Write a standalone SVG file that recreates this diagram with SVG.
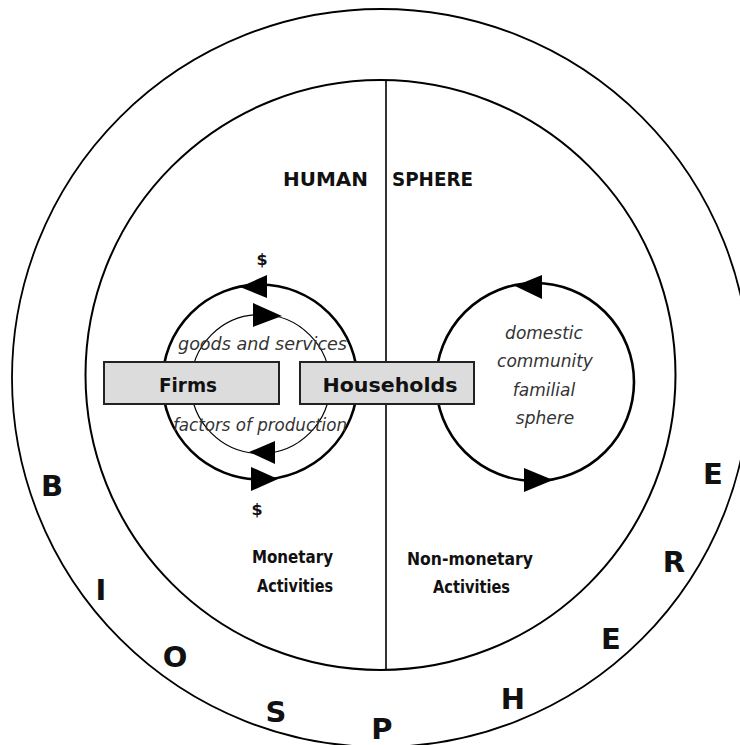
<svg xmlns="http://www.w3.org/2000/svg" width="740" height="745" viewBox="0 0 740 745">
<style>
.ring{fill:none;stroke:#000}
.b{font-family:"DejaVu Sans","Liberation Sans",sans-serif;font-weight:bold;fill:#111}
.it{font-family:"DejaVu Sans","Liberation Sans",sans-serif;font-style:italic;fill:#333;font-size:17px}
.big{font-size:29px;text-anchor:middle}
.box{fill:#dcdcdc;stroke:#222;stroke-width:2}
.arr{fill:#000;stroke:none}
</style>
<rect width="740" height="745" fill="#fff"/>
<g id="biosphere">
<circle class="ring" cx="381" cy="378" r="369" stroke-width="1.8"/>
<text class="b big" x="52" y="496">B</text>
<text class="b big" x="101" y="600">I</text>
<text class="b big" x="175" y="667">O</text>
<text class="b big" x="276" y="722">S</text>
<text class="b big" x="382" y="739">P</text>
<text class="b big" x="513" y="709">H</text>
<text class="b big" x="611" y="649">E</text>
<text class="b big" x="674" y="572">R</text>
<text class="b big" x="713" y="484">E</text>
</g>
<g id="human-sphere">
<circle class="ring" cx="380.5" cy="375" r="295" stroke-width="2"/>
<line x1="386" y1="80" x2="386" y2="670" stroke="#000" stroke-width="1.6"/>
<text class="b" x="283" y="186" font-size="20" textLength="85" lengthAdjust="spacingAndGlyphs">HUMAN</text>
<text class="b" x="392" y="186" font-size="20" textLength="81" lengthAdjust="spacingAndGlyphs">SPHERE</text>
<text class="b" x="252" y="563" font-size="17" textLength="81" lengthAdjust="spacingAndGlyphs">Monetary</text>
<text class="b" x="257" y="592" font-size="17" textLength="76" lengthAdjust="spacingAndGlyphs">Activities</text>
<text class="b" x="407" y="565" font-size="17" textLength="126" lengthAdjust="spacingAndGlyphs">Non-monetary</text>
<text class="b" x="433" y="593" font-size="17" textLength="77" lengthAdjust="spacingAndGlyphs">Activities</text>
</g>
<g id="connectors">
<circle class="ring" cx="260" cy="382" r="97.5" stroke-width="2.6"/>
<circle class="ring" cx="260.5" cy="384" r="69.5" stroke-width="1.2"/>
<circle class="ring" cx="535" cy="382" r="99" stroke-width="2.6"/>
<polygon class="arr" points="240,287 267,275 267,298"/>
<polygon class="arr" points="282,316 253,303 253,327"/>
<polygon class="arr" points="249,452 275,441 275,464"/>
<polygon class="arr" points="278,479 251,467 251,491"/>
<polygon class="arr" points="515,286 542,275 542,299"/>
<polygon class="arr" points="553,480 524,468 524,492"/>
<text class="b" x="262" y="265" font-size="16" text-anchor="middle">$</text>
<text class="b" x="257" y="515" font-size="16" text-anchor="middle">$</text>
<text class="it" x="178" y="350" textLength="169" lengthAdjust="spacingAndGlyphs">goods and services</text>
<text class="it" x="173" y="431" textLength="174" lengthAdjust="spacingAndGlyphs">factors of production</text>
<text class="it" x="544" y="339" text-anchor="middle">domestic</text>
<text class="it" x="545" y="367" text-anchor="middle">community</text>
<text class="it" x="544" y="396" text-anchor="middle">familial</text>
<text class="it" x="545" y="424" text-anchor="middle">sphere</text>
</g>
<g id="firms">
<rect class="box" x="104" y="362" width="175" height="42"/>
<text class="b" x="188" y="392" font-size="20" text-anchor="middle" textLength="58" lengthAdjust="spacingAndGlyphs">Firms</text>
</g>
<g id="households">
<rect class="box" x="300" y="362" width="174" height="42"/>
<text class="b" x="390" y="392" font-size="20" text-anchor="middle" textLength="135" lengthAdjust="spacingAndGlyphs">Households</text>
</g>
</svg>
